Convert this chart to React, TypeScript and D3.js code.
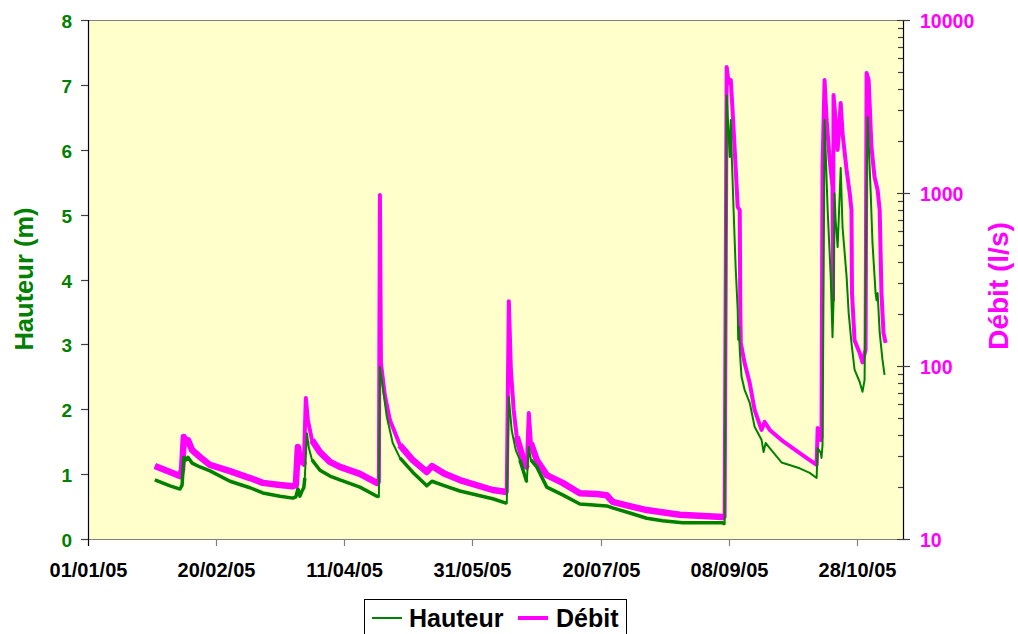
import React from "react";
import * as d3 from "d3";

// Days since 01/01/2005 (fractional) and values
const hauteurDays = [26.1, 32.0, 35.9, 36.7, 37.4, 38.2, 39.0, 40.6, 43.7, 47.6, 55.4, 63.2, 68.2, 74.9, 79.9, 81.1, 81.9, 82.7, 83.5, 84.2, 84.6, 85.4, 86.2, 87.4, 90.5, 94.4, 98.3, 106.1, 112.7, 113.5, 113.9, 115.0, 116.6, 118.9, 121.7, 126.7, 132.2, 134.2, 139.2, 145.1, 157.9, 163.4, 164.2, 165.3, 166.9, 168.5, 171.2, 172.0, 172.8, 175.1, 179.0, 185.2, 191.9, 198.5, 202.4, 204.7, 211.4, 218.0, 224.2, 232.0, 247.6, 248.4, 249.2, 250.4, 250.8, 251.1, 251.9, 252.7, 253.5, 253.7, 254.0, 254.3, 255.0, 256.2, 258.2, 260.1, 262.8, 263.6, 264.4, 266.0, 270.6, 277.7, 281.6, 284.3, 284.7, 285.9, 286.2, 286.6, 287.4, 288.6, 289.8, 290.5, 290.9, 291.3, 291.7, 292.5, 293.7, 294.4, 296.0, 296.8, 297.9, 299.1, 301.1, 302.2, 303.0, 303.8, 304.2, 305.4, 306.1, 307.3, 307.7, 308.1, 308.9, 310.0, 310.8];
const hauteurValues = [0.91, 0.82, 0.77, 0.83, 1.26, 1.22, 1.26, 1.17, 1.11, 1.05, 0.89, 0.79, 0.71, 0.66, 0.63, 0.65, 0.77, 0.66, 0.74, 0.79, 0.94, 1.63, 1.40, 1.22, 1.06, 0.97, 0.91, 0.80, 0.66, 0.65, 2.65, 2.34, 1.88, 1.48, 1.25, 1.03, 0.82, 0.89, 0.82, 0.74, 0.62, 0.55, 2.19, 1.68, 1.37, 1.22, 0.88, 1.42, 1.22, 1.11, 0.80, 0.68, 0.54, 0.52, 0.51, 0.48, 0.40, 0.32, 0.28, 0.25, 0.25, 0.23, 6.84, 5.89, 6.46, 6.00, 5.07, 4.19, 3.53, 3.07, 3.27, 2.91, 2.50, 2.30, 2.10, 1.73, 1.53, 1.34, 1.48, 1.40, 1.18, 1.09, 1.02, 0.94, 1.40, 1.33, 1.25, 1.45, 6.46, 5.07, 4.04, 3.11, 3.68, 5.33, 4.92, 4.50, 5.72, 4.81, 4.04, 3.48, 3.02, 2.61, 2.42, 2.27, 2.45, 5.33, 6.50, 5.33, 4.56, 3.79, 3.68, 3.79, 3.18, 2.76, 2.53];

const debitDays = [26.1, 32.0, 35.9, 36.7, 37.4, 38.2, 39.0, 40.6, 43.7, 47.6, 55.4, 63.2, 68.2, 74.9, 79.9, 81.1, 81.9, 82.7, 83.5, 84.2, 85.0, 85.8, 87.4, 90.5, 94.4, 98.3, 106.1, 112.7, 113.5, 113.9, 114.3, 115.8, 117.8, 121.7, 126.7, 132.2, 134.2, 139.2, 145.1, 157.9, 163.4, 164.2, 165.0, 166.1, 167.3, 169.3, 171.2, 172.0, 172.8, 175.1, 179.0, 185.2, 191.9, 198.5, 202.4, 204.7, 211.4, 218.0, 230.9, 247.6, 248.4, 249.2, 250.0, 250.8, 251.5, 252.7, 253.5, 254.3, 254.5, 254.7, 256.2, 258.2, 260.1, 262.8, 264.0, 266.0, 270.6, 277.7, 281.6, 284.3, 284.7, 285.9, 286.2, 286.6, 287.4, 288.2, 289.4, 290.5, 290.7, 290.9, 291.7, 292.5, 293.7, 294.4, 296.0, 297.2, 297.9, 298.1, 299.1, 301.1, 302.2, 303.4, 303.8, 304.6, 305.7, 306.9, 308.1, 308.9, 309.6, 310.4, 311.2];
const debitValues = [26.4, 24.4, 23.1, 25.1, 38.9, 35.9, 37.3, 32.7, 29.8, 26.8, 24.7, 22.5, 21.1, 20.5, 20.2, 20.5, 34.0, 28.6, 30.2, 26.8, 65.3, 48.7, 37.3, 31.8, 27.9, 26.1, 23.8, 21.1, 21.3, 973, 104, 68.0, 48.7, 34.9, 28.6, 24.4, 26.4, 23.8, 21.9, 19.2, 18.7, 237, 94.8, 55.7, 38.9, 30.6, 25.7, 53.5, 35.9, 28.6, 23.4, 21.1, 18.4, 18.2, 17.9, 16.4, 15.5, 14.7, 13.8, 13.4, 13.4, 5350, 4324, 4500, 3018, 1414, 830, 797, 231, 136, 104, 79.7, 55.7, 42.7, 47.5, 42.7, 37.3, 31.4, 28.6, 26.8, 43.8, 37.3, 38.9, 1414, 4500, 2642, 1551, 1083, 241, 3686, 2642, 1773, 3313, 2222, 1358, 1000, 797, 264, 141, 119, 105, 124, 4938, 4500, 1845, 1237, 1041, 797, 264, 155, 136];

const xTickDays = [0, 50, 100, 150, 200, 250, 300];
const hauteurTicks = [0, 1, 2, 3, 4, 5, 6, 7, 8];
const debitTicks = [10, 100, 1000, 10000];
const seriesNames = ["Hauteur", "Débit"];

const GREEN = "#008000";
const MAGENTA = "#FF00FF";
const FONT = "'Liberation Sans', Arial, Helvetica, sans-serif";

type P = { d: number; v: number };

export default function App() {
  const t0 = Date.UTC(2005, 0, 1);
  const toDate = (d: number) => new Date(t0 + d * 864e5);
  const L = 88, R = 903, T = 20, B = 539;

  const x = d3.scaleUtc().domain([toDate(0), toDate(318)]).range([L, R]);
  const yH = d3.scaleLinear().domain([0, 8]).range([B, T]);
  const yQ = d3.scaleLog().domain([10, 10000]).range([B, T]);
  const fmt = d3.utcFormat("%d/%m/%y");

  const hData: P[] = hauteurDays.map((d, i) => ({ d, v: hauteurValues[i] }));
  const qData: P[] = debitDays.map((d, i) => ({ d, v: debitValues[i] }));

  const lineH = d3.line<P>().x((p) => x(toDate(p.d))).y((p) => yH(p.v));
  const lineQ = d3.line<P>().x((p) => x(toDate(p.d))).y((p) => yQ(p.v));

  // wider, noisy-looking band during the low-flow period (not on the spikes)
  const noisyEnd = 248.4;
  const lineHEarly = d3.line<P>().defined((p) => p.d <= noisyEnd && p.v < 1.3).x((p) => x(toDate(p.d))).y((p) => yH(p.v));
  const lineQEarly = d3.line<P>().defined((p) => p.d <= noisyEnd && p.v < 40).x((p) => x(toDate(p.d))).y((p) => yQ(p.v));

  const minor: number[] = [];
  [10, 100, 1000].forEach((dec) => {
    for (let k = 2; k <= 9; k++) minor.push(k * dec);
  });

  return (
    <svg width={1018} height={634} style={{ position: "absolute", left: 0, top: 0, display: "block" }} fontFamily={FONT}>
      <rect x={0} y={0} width={1018} height={634} fill="#ffffff" />
      <rect x={L} y={T} width={R - L} height={B - T} fill="#FFFFCC" />
      <line x1={L} x2={R} y1={T + 0.5} y2={T + 0.5} stroke="#808080" strokeWidth={1} />

      <clipPath id="plotclip">
        <rect x={L} y={T} width={R - L} height={B - T} />
      </clipPath>
      <g clipPath="url(#plotclip)" fill="none" strokeLinejoin="round" strokeLinecap="butt">
        <path d={lineQ(qData) || ""} stroke={MAGENTA} strokeWidth={4} />
        <path d={lineQEarly(qData) || ""} stroke={MAGENTA} strokeWidth={6.5} />
        <path d={lineH(hData) || ""} stroke={GREEN} strokeWidth={2} />
        <path d={lineHEarly(hData) || ""} stroke={GREEN} strokeWidth={3.5} />
      </g>

      {/* bottom axis */}
      <line x1={L} x2={R} y1={B + 0.5} y2={B + 0.5} stroke="#808080" strokeWidth={1.2} />
      {xTickDays.map((d) => {
        const xx = Math.round(x(toDate(d))) + 0.5;
        return (
          <g key={"xt" + d}>
            <line x1={xx} x2={xx} y1={B} y2={B + 7} stroke={d === 0 ? "#000" : "#808080"} strokeWidth={1.2} />
            <text x={xx} y={577} textAnchor="middle" fontSize={20} fontWeight="bold" fill="#000">
              {fmt(toDate(d))}
            </text>
          </g>
        );
      })}

      {/* left axis */}
      <line x1={L + 0.5} x2={L + 0.5} y1={T} y2={B + 1} stroke="#000" strokeWidth={1.2} />
      {hauteurTicks.map((v) => {
        const yy = Math.round(yH(v)) + 0.5;
        return (
          <g key={"yh" + v}>
            <line x1={L - 7} x2={L} y1={yy} y2={yy} stroke="#404040" strokeWidth={1.2} />
            <text x={72} y={yy + 7} textAnchor="end" fontSize={19} fontWeight="bold" fill={GREEN}>
              {v}
            </text>
          </g>
        );
      })}

      {/* right axis */}
      <line x1={R + 0.5} x2={R + 0.5} y1={T} y2={B + 1} stroke="#000" strokeWidth={1.2} />
      {minor.map((v) => {
        const yy = Math.round(yQ(v)) + 0.5;
        return <line key={"mq" + v} x1={R - 5} x2={R} y1={yy} y2={yy} stroke="#404040" strokeWidth={1.2} />;
      })}
      {debitTicks.map((v) => {
        const yy = Math.round(yQ(v)) + 0.5;
        return (
          <g key={"yq" + v}>
            <line x1={R - 6} x2={R + 7} y1={yy} y2={yy} stroke="#404040" strokeWidth={1.2} />
            <text x={920} y={yy + 7} textAnchor="start" fontSize={19.5} fontWeight="bold" fill={MAGENTA}>
              {v}
            </text>
          </g>
        );
      })}

      {/* axis titles */}
      <text transform="translate(33,279) rotate(-90)" textAnchor="middle" fontSize={25.5} fontWeight="bold" fill={GREEN}>
        Hauteur (m)
      </text>
      <text transform="translate(1008,286) rotate(-90)" textAnchor="middle" fontSize={28} fontWeight="bold" fill={MAGENTA}>
        Débit (l/s)
      </text>

      {/* legend */}
      <rect x={364.5} y={599.5} width={262} height={45} fill="#ffffff" stroke="#000" strokeWidth={1} />
      <line x1={372} x2={402} y1={618} y2={618} stroke={GREEN} strokeWidth={2} />
      <text x={409} y={627} fontSize={25} fontWeight="bold" fill="#000">
        {seriesNames[0]}
      </text>
      <line x1={518} x2={548} y1={618} y2={618} stroke={MAGENTA} strokeWidth={4} />
      <text x={556} y={627} fontSize={25} fontWeight="bold" fill="#000">
        {seriesNames[1]}
      </text>
    </svg>
  );
}
